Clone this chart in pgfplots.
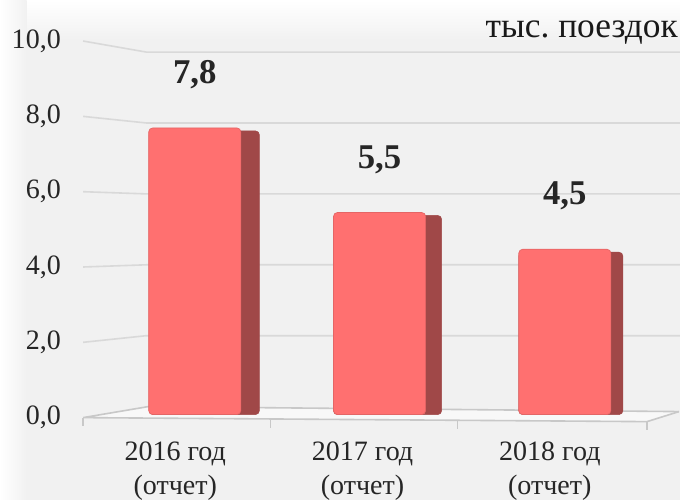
\documentclass[border=0pt]{standalone}
\usepackage{pgfplots}
\pgfplotsset{compat=1.18}
\usepackage{fontspec}
\setmainfont{Liberation Serif}
\usetikzlibrary{backgrounds}
\definecolor{barfront}{HTML}{FF7070}
\definecolor{barside}{HTML}{A04848}
\definecolor{gridcol}{HTML}{D9D9D9}
\definecolor{floorcol}{HTML}{C8C8C8}
\definecolor{bgcol}{HTML}{F1F1F1}
\frenchspacing

\begin{document}
\begin{tikzpicture}
\begin{axis}[
  x=140.25pt, y=27.525pt,
  xmin=-0.492, xmax=2.519,
  ymin=-0.3, ymax=10.5,
  clip=false,
  axis line style={draw=none},
  major tick length=0pt,
  ytick={-0.082,1.967,4.016,6.065,8.114,10.164},
  yticklabels={{0,0},{2,0},{4,0},{6,0},{8,0},{10,0}},
  yticklabel style={font=\fontsize{21}{25}\selectfont, text=black!85, anchor=east, inner sep=0pt, xshift=-16.5pt},
  xtick={0,1,2},
  xticklabels={{2016 год\\(отчет)},{2017 год\\(отчет)},{2018 год\\(отчет)}},
  xticklabel style={font=\fontsize{21}{25.5}\selectfont, text=black!85, align=center, anchor=north, inner sep=0pt, yshift=-12pt},
  ybar,
  /pgf/number format/assume math mode=true,
]
% gridlines on the side and back wall
\draw[gridcol, line width=1.2pt] (axis cs:-0.492,1.967) -- (axis cs:-0.1551,2.147) -- (axis cs:2.6952,2.147);
\draw[gridcol, line width=1.2pt] (axis cs:-0.492,4.016) -- (axis cs:-0.1551,4.076) -- (axis cs:2.6952,4.076);
\draw[gridcol, line width=1.2pt] (axis cs:-0.492,6.065) -- (axis cs:-0.1551,6.005) -- (axis cs:2.6952,6.005);
\draw[gridcol, line width=1.2pt] (axis cs:-0.492,8.114) -- (axis cs:-0.1551,7.935) -- (axis cs:2.6952,7.935);
\draw[gridcol, line width=1.2pt] (axis cs:-0.492,10.164) -- (axis cs:-0.1551,9.864) -- (axis cs:2.6952,9.864);
% floor
\fill[white!50!bgcol] (axis cs:-0.492,-0.082) -- (axis cs:2.5187,-0.191) -- (axis cs:2.6898,0.082) -- (axis cs:-0.1444,0.218) -- cycle;
\draw[floorcol, line width=1.2pt] (axis cs:-0.1444,0.218) -- (axis cs:2.6898,0.082);
\draw[floorcol, line width=1.2pt] (axis cs:-0.1444,0.218) -- (axis cs:-0.492,-0.082) -- (axis cs:2.5187,-0.191) -- (axis cs:2.6898,0.082);
\draw[floorcol, line width=1pt] (axis cs:-0.492,-0.082) -- ++(0pt,-6.5pt);
\draw[floorcol, line width=1pt] (axis cs:0.508,-0.118) -- ++(0pt,-6.5pt);
\draw[floorcol, line width=1pt] (axis cs:1.508,-0.155) -- ++(0pt,-6.5pt);
\draw[floorcol, line width=1pt] (axis cs:2.5187,-0.191) -- ++(0pt,-6.5pt);
% side faces of the bars
\addplot[fill=barside, draw=barside, bar width=82.5pt, bar shift=0pt, rounded corners=3pt] coordinates {(0.1551,7.72)};
\addplot[fill=barside, draw=barside, bar width=81pt, bar shift=0pt, rounded corners=3pt] coordinates {(1.1337,5.42)};
\addplot[fill=barside, draw=barside, bar width=78pt, bar shift=0pt, rounded corners=3pt] coordinates {(2.1123,4.42)};
% front faces
\addplot[fill=barfront, draw=barfront!90!black, line width=0.5pt, bar width=69pt, bar shift=0pt, rounded corners=3pt,
  nodes near coords,
  nodes near coords style={font=\bfseries\fontsize{26}{30}\selectfont, text=black!85, anchor=center, yshift=39.75pt,
    /pgf/number format/.cd, fixed, fixed zerofill, precision=1, use comma}]
  coordinates {(0.1043,7.8) (1.0909,5.5) (2.0802,4.5)};
\node[anchor=base east, inner sep=0pt, font=\fontsize{26.5}{30}\selectfont, text=black!90] at (axis cs:2.6845,10.2725) {тыс. поездок};
\coordinate (pbl) at (axis cs:-0.9358,-2.3161);
\coordinate (ptr) at (axis cs:2.6952,11.2807);
\coordinate (ptl) at (axis cs:-0.9358,11.2807);
\end{axis}
\pgfresetboundingbox
\begin{scope}[on background layer]
  \fill[bgcol] (pbl) rectangle (ptr);
  \shade[top color=white, bottom color=bgcol] (ptl) rectangle ([yshift=-30pt]ptr);
  \shade[left color=white, right color=bgcol] (pbl) rectangle ([xshift=20pt]ptl);
\end{scope}
\useasboundingbox (pbl) rectangle (ptr);
\end{tikzpicture}
\end{document}
